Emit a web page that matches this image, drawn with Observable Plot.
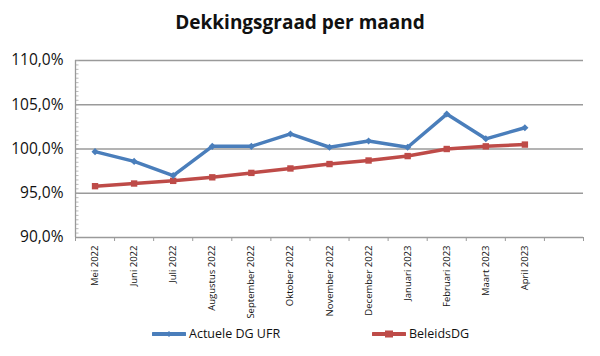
<!DOCTYPE html>
<html><head><meta charset="utf-8">
<script src="https://cdn.jsdelivr.net/npm/d3@7"></script>
<script src="https://cdn.jsdelivr.net/npm/@observablehq/plot@0.6"></script>
<style>
body{margin:0;background:#fff;font-family:"Open Sans",sans-serif;}
#wrap{width:600px;height:356px;position:relative;overflow:hidden;}
#title{height:45px;line-height:45px;text-align:center;font-weight:bold;font-size:19px;color:#111;}
#legend{position:relative;height:31px;font-size:12.5px;color:#111;}
.item{position:absolute;top:0px;display:flex;align-items:center;}
.item svg{margin-right:3px;}
</style></head>
<body><div id="wrap">
<div id="title">Dekkingsgraad per maand</div>
<div id="chart"></div>
<div id="legend"></div>
</div>
<script>
const months = ["Mei 2022","Juni 2022","Juli 2022","Augustus 2022","September 2022","Oktober 2022","November 2022","December 2022","Januari 2023","Februari 2023","Maart 2023","April 2023"];
const slots = 13;
const actueleDG = [99.7, 98.6, 97.0, 100.3, 100.3, 101.7, 100.2, 100.9, 100.2, 103.95, 101.15, 102.4];
const beleidsDG = [95.8, 96.1, 96.4, 96.8, 97.3, 97.8, 98.3, 98.7, 99.2, 100.0, 100.3, 100.5];
const yTicks = [90, 95, 100, 105, 110];
const seriesNames = ["Actuele DG UFR", "BeleidsDG"];
const colors = ["#4a7ebb", "#be4b48"];

const blue = actueleDG.map((v,i)=>({i:i+0.5, v}));
const red = beleidsDG.map((v,i)=>({i:i+0.5, v}));
const minor = d3.range(90, 110.01, 0.5);
const boundaries = d3.range(0, slots+1);

const plot = Plot.plot({
  width: 600, height: 280,
  marginLeft: 75, marginRight: 17, marginTop: 15, marginBottom: 88,
  style: {fontFamily: "'Open Sans', sans-serif", color: "#111"},
  x: {type: "linear", domain: [0, slots], label: null},
  y: {domain: [90, 110], label: null},
  marks: [
    Plot.ruleY(yTicks.filter(d=>d>90), {stroke: "#9a9a9a", strokeWidth: 1.3}),
    Plot.ruleY(minor, {x1: 0, x2: 0.09, stroke: "#aaa", strokeWidth: 0.8}),
    Plot.ruleX([0], {stroke: "#9a9a9a", strokeWidth: 1.3}),
    Plot.ruleY([90], {stroke: "#9a9a9a", strokeWidth: 1.3}),
    Plot.axisY({ticks: yTicks, tickFormat: d => d.toFixed(1).replace(".", ",") + "%", tickSize: 0, tickPadding: 12, fontSize: 15.5, label: null}),
    Plot.axisX({ticks: boundaries, tickSize: 4, tickFormat: () => "", stroke: "#9a9a9a", label: null}),
    Plot.axisX({ticks: months.map((m,i)=>i+0.5), tickFormat: d => months[Math.round(d-0.5)], tickSize: 0, tickRotate: -90, tickPadding: 8, fontSize: 9.5, label: null}),
    Plot.line(red, {x: "i", y: "v", stroke: colors[1], strokeWidth: 3.5}),
    Plot.dot(red, {x: "i", y: "v", symbol: "square", fill: colors[1], r: 3.6}),
    Plot.line(blue, {x: "i", y: "v", stroke: colors[0], strokeWidth: 3.5}),
    Plot.dot(blue, {x: "i", y: "v", symbol: "diamond2", fill: colors[0], r: 3.2})
  ]
});
document.getElementById("chart").appendChild(plot);

const legend = document.getElementById("legend");
const lefts = [152, 372];
seriesNames.forEach((name, k) => {
  const div = document.createElement("div");
  div.className = "item";
  div.style.left = lefts[k] + "px";
  const marker = k === 0
    ? `<path d="M17,3 L20,6 L17,9 L14,6 Z" fill="${colors[0]}"/>`
    : `<rect x="13" y="2.5" width="8" height="7" fill="${colors[1]}"/>`;
  div.innerHTML = `<svg width="34" height="12"><line x1="1" x2="33" y1="6" y2="6" stroke="${colors[k]}" stroke-width="4" stroke-linecap="round"/>${marker}</svg><span>${name}</span>`;
  legend.appendChild(div);
});
</script>
</body></html>
